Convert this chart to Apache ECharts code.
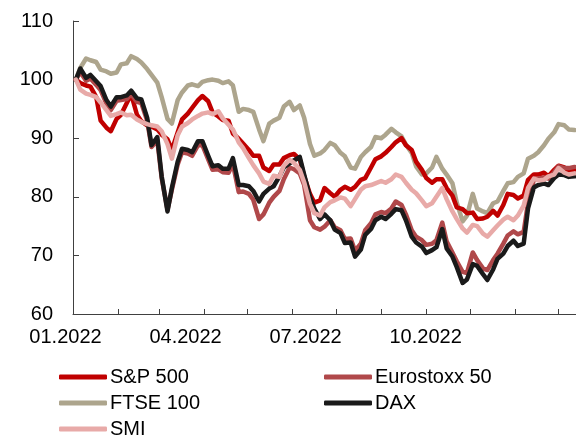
<!DOCTYPE html>
<html>
<head>
<meta charset="utf-8">
<script src="https://cdn.jsdelivr.net/npm/echarts@6/dist/echarts.min.js"></script>
<style>
  html, body { margin: 0; padding: 0; background: #ffffff; }
  #chart { width: 576px; height: 439px; }
</style>
</head>
<body>
<div id="chart"></div>
<script>
// Equity indices 2022, rebased to 100 at the start of the year (twice-weekly observations)
const dates = [
  '2022-01-03','2022-01-06','2022-01-10','2022-01-13','2022-01-17','2022-01-20','2022-01-24','2022-01-27','2022-01-31','2022-02-03',
  '2022-02-07','2022-02-10','2022-02-14','2022-02-17','2022-02-21','2022-02-24','2022-02-28','2022-03-03','2022-03-07','2022-03-10',
  '2022-03-14','2022-03-17','2022-03-21','2022-03-24','2022-03-28','2022-03-31','2022-04-04','2022-04-07','2022-04-11','2022-04-14',
  '2022-04-18','2022-04-21','2022-04-25','2022-04-28','2022-05-02','2022-05-05','2022-05-09','2022-05-12','2022-05-16','2022-05-19',
  '2022-05-23','2022-05-26','2022-05-30','2022-06-02','2022-06-06','2022-06-09','2022-06-13','2022-06-16','2022-06-20','2022-06-23',
  '2022-06-27','2022-06-30','2022-07-04','2022-07-07','2022-07-11','2022-07-14','2022-07-18','2022-07-21','2022-07-25','2022-07-28',
  '2022-08-01','2022-08-04','2022-08-08','2022-08-11','2022-08-15','2022-08-18','2022-08-22','2022-08-25','2022-08-29','2022-09-01',
  '2022-09-05','2022-09-08','2022-09-12','2022-09-15','2022-09-19','2022-09-22','2022-09-26','2022-09-29','2022-10-03','2022-10-06',
  '2022-10-10','2022-10-13','2022-10-17','2022-10-20','2022-10-24','2022-10-27','2022-10-31','2022-11-03','2022-11-07','2022-11-10',
  '2022-11-14','2022-11-17','2022-11-21','2022-11-24','2022-11-28','2022-12-01','2022-12-05','2022-12-08','2022-12-12'
];

const sp500 = [
  100, 99.4, 99.0, 98.8, 97.0, 93.0, 91.8, 91.2, 93.3, 94.0,
  96.0, 97.5, 94.0, 92.9, 92.2, 92.0, 91.5, 90.6, 89.8, 88.0,
  91.0, 93.2, 94.2, 95.2, 96.5, 97.2, 96.3, 94.4, 93.7, 93.1,
  93.0, 90.8, 89.9, 89.1, 88.0, 87.0, 87.0, 85.0, 84.4, 85.5,
  85.5, 86.6, 87.1, 87.3, 86.4, 83.5, 80.5, 79.0, 79.4, 81.5,
  80.6, 80.0, 81.2, 81.7, 81.2, 81.7, 82.9, 83.2, 85.0, 86.4,
  86.9, 87.5, 88.5, 89.3, 90.0, 88.8, 88.0, 86.0, 84.6, 83.2,
  82.4, 83.0, 83.0, 81.5, 80.2, 78.2, 77.9, 77.2, 77.3, 76.2,
  76.3, 76.6, 77.6, 76.8, 78.6, 80.5, 80.3, 79.7, 80.2, 82.9,
  83.8, 83.8, 84.1, 83.5, 84.6, 85.3, 85.0, 84.4, 84.6
];

const eurostoxx50 = [
  100, 101.3, 99.8, 100.2, 99.1, 98.2, 95.9, 94.8, 96.4, 96.5,
  96.7, 97.5, 96.2, 96.0, 93.0, 88.5, 89.6, 83.2, 77.8, 81.2,
  85.5, 87.6, 87.4, 87.0, 88.8, 88.8, 86.4, 84.6, 84.7, 84.2,
  84.1, 85.6, 80.8, 80.9, 80.5, 79.5, 76.2, 77.0, 79.0, 80.0,
  81.0, 83.0, 85.0, 84.7, 84.0, 82.0, 76.0, 74.8, 74.4, 74.9,
  76.0, 74.8, 74.3, 72.8, 72.9, 70.8, 72.0, 74.3, 75.5, 77.0,
  77.4, 77.2, 78.0, 79.2, 78.6, 77.0, 74.3, 73.2, 72.6, 71.8,
  72.0, 72.6, 75.6, 72.4, 70.5, 69.0, 67.2, 67.0, 70.5, 69.2,
  67.8, 67.5, 69.2, 70.3, 72.0, 73.4, 74.1, 73.6, 74.0, 79.0,
  82.8, 83.1, 83.3, 83.1, 84.2, 85.2, 84.9, 84.9, 85.1
];

const ftse100 = [
  100, 102.0, 103.6, 103.3, 103.0, 101.7, 101.4, 101.0, 101.2, 102.6,
  102.8, 104.0, 103.5, 102.9, 101.8, 100.8, 99.5, 97.0, 93.3, 92.5,
  96.5, 97.8, 99.0, 99.2, 98.9, 99.6, 99.9, 100.0, 99.8, 99.4,
  99.7, 99.0, 94.5, 95.0, 94.8, 94.5, 91.5, 89.5, 92.5, 93.0,
  93.5, 95.4, 96.2, 94.8, 95.6, 93.5, 89.0, 87.0, 87.4, 88.0,
  89.2, 88.8, 87.5, 86.9, 85.0, 84.8, 86.8, 87.6, 88.5, 90.2,
  90.0, 90.6, 91.6, 91.0, 90.3, 88.9, 87.5, 85.2, 83.8, 84.0,
  85.0, 86.8, 84.8, 83.8, 82.3, 79.0, 75.8, 76.8, 80.5, 78.0,
  77.5, 77.2, 78.9, 79.2, 81.0, 82.3, 82.5, 83.4, 84.0, 86.5,
  87.0, 87.6, 88.8, 89.9, 91.0, 92.4, 92.2, 91.5, 91.4
];

const dax = [
  100, 101.9, 100.3, 100.8, 99.7, 98.9, 96.5, 95.4, 97.0, 97.0,
  97.3, 98.1, 96.8, 96.6, 93.5, 88.8, 90.2, 83.5, 77.5, 81.5,
  86.0, 88.2, 88.0, 87.6, 89.5, 89.5, 87.0, 85.2, 85.4, 84.8,
  84.8, 86.6, 82.0, 82.0, 81.8, 81.0, 79.2, 80.5, 81.4, 81.8,
  83.5, 85.0, 85.7, 86.2, 86.8, 83.8, 80.0, 78.0, 76.2, 77.0,
  76.0, 74.4, 73.8, 72.1, 72.2, 69.8, 71.0, 73.5, 74.5, 76.0,
  76.6, 76.2, 77.1, 77.9, 77.7, 76.0, 73.2, 72.2, 71.5, 70.4,
  70.9, 71.4, 74.5, 71.2, 69.8, 68.0, 65.3, 65.9, 68.5, 68.2,
  66.8, 65.8, 67.6, 69.4, 70.3, 71.6, 72.5, 71.6, 72.0, 78.0,
  81.6, 82.0, 82.3, 82.0, 83.2, 83.8, 83.7, 83.4, 83.5
];

const smi = [
  100, 98.3, 97.6, 97.4, 97.0, 96.1, 94.8, 93.8, 94.1, 94.4,
  93.9, 94.0, 93.2, 92.8, 92.4, 92.2, 92.0, 91.2, 89.0, 86.5,
  90.5, 92.0, 92.6, 93.2, 93.8, 94.2, 94.4, 94.1, 94.6, 93.4,
  92.3, 91.5, 89.3, 88.3, 86.6, 85.4, 84.0, 82.6, 82.2, 83.6,
  83.4, 85.3, 86.3, 85.8, 84.6, 82.5, 78.8, 77.2, 76.8, 78.2,
  79.1, 79.4, 79.9, 79.7, 78.4, 79.6, 81.2, 81.8, 82.0, 82.3,
  82.7, 82.4, 83.0, 83.8, 83.4, 82.4, 81.2, 80.6, 79.4, 78.4,
  78.9, 80.0, 81.5, 79.6, 77.5, 76.2, 74.6, 73.9, 75.2, 75.0,
  73.7, 73.2, 74.3, 75.1, 76.1, 76.6, 76.0, 76.8, 78.5, 81.5,
  83.1, 82.8, 82.9, 83.5, 83.8, 84.9, 84.1, 83.8, 84.0
];

// Month starts carry the small inward ticks on the date axis
const monthStarts = [
  '2022-01-01','2022-02-01','2022-03-01','2022-04-01','2022-05-01','2022-06-01',
  '2022-07-01','2022-08-01','2022-09-01','2022-10-01','2022-11-01','2022-12-01'
];

// Quarterly labels shown under the axis
const tickLabels = ['01.2022', '04.2022', '07.2022', '10.2022'];

const yTicks = [60, 70, 80, 90, 100, 110];

const font = "'Liberation Sans', Arial, Helvetica, sans-serif";
const axisColor = '#404040';

function toTime(s) {
  const p = s.split('-').map(Number);
  return new Date(p[0], p[1] - 1, p[2]).getTime();
}

const seriesDefs = [
  { name: 'FTSE 100',     values: ftse100,     color: '#ADA58D' },
  { name: 'S&P 500',      values: sp500,       color: '#C00000' },
  { name: 'Eurostoxx 50', values: eurostoxx50, color: '#B0484A' },
  { name: 'DAX',          values: dax,         color: '#1A1A1A' },
  { name: 'SMI',          values: smi,         color: '#E8AAA8' }
];

const legendCommon = {
  orient: 'vertical',
  top: 367,
  height: 120,
  padding: 0,
  itemWidth: 48,
  itemHeight: 5,
  itemGap: 6,
  icon: 'roundRect',
  selectedMode: false,
  textStyle: { fontFamily: font, fontSize: 20, color: '#000000', lineHeight: 18, padding: [0, 0, 0, -2] }
};

const chart = echarts.init(document.getElementById('chart'), null, { renderer: 'canvas' });

chart.setOption({
  animation: false,
  backgroundColor: '#ffffff',
  textStyle: { fontFamily: font },
  grid: { left: 73, right: 0, top: 21, bottom: 125, containLabel: false },
  legend: [
    Object.assign({ left: 59, data: ['S&P 500', 'FTSE 100', 'SMI'] }, legendCommon),
    Object.assign({ left: 324, data: ['Eurostoxx 50', 'DAX'] }, legendCommon)
  ],
  xAxis: [
    {
      type: 'time',
      min: toTime('2022-01-01'),
      max: toTime('2022-12-13'),
      axisLine: { show: true, lineStyle: { color: axisColor, width: 1 } },
      axisTick: {
        show: true, inside: true, length: 5,
        lineStyle: { color: axisColor, width: 1 },
        customValues: monthStarts.map(toTime)
      },
      axisLabel: { show: false },
      splitLine: { show: false }
    },
    {
      // label track: quarterly captions evenly spaced along the bottom
      type: 'value',
      position: 'bottom',
      min: 0,
      max: 4.19,
      interval: 1,
      axisLine: { show: false },
      axisTick: { show: false },
      splitLine: { show: false },
      axisLabel: {
        show: true,
        margin: 13,
        fontSize: 20,
        color: '#000000',
        fontFamily: font,
        padding: [0, 15, 0, 0],
        showMaxLabel: false,
        formatter: function (v) { return tickLabels[v] || ''; }
      }
    }
  ],
  yAxis: {
    type: 'value',
    min: yTicks[0],
    max: yTicks[yTicks.length - 1],
    interval: 10,
    axisLine: { show: true, lineStyle: { color: axisColor, width: 1 } },
    axisTick: { show: true, inside: true, length: 6, lineStyle: { color: axisColor, width: 1 } },
    axisLabel: { fontSize: 20, color: '#000000', margin: 20, fontFamily: font },
    splitLine: { show: false }
  },
  series: seriesDefs.map(function (s) {
    return {
      name: s.name,
      type: 'line',
      xAxisIndex: 0,
      showSymbol: false,
      symbol: 'none',
      silent: true,
      color: s.color,
      itemStyle: { color: s.color },
      lineStyle: { color: s.color, width: 4.5, cap: 'round', join: 'round' },
      emphasis: { disabled: true },
      data: dates.map(function (d, i) { return [toTime(d), s.values[i]]; })
    };
  })
});
</script>
</body>
</html>
